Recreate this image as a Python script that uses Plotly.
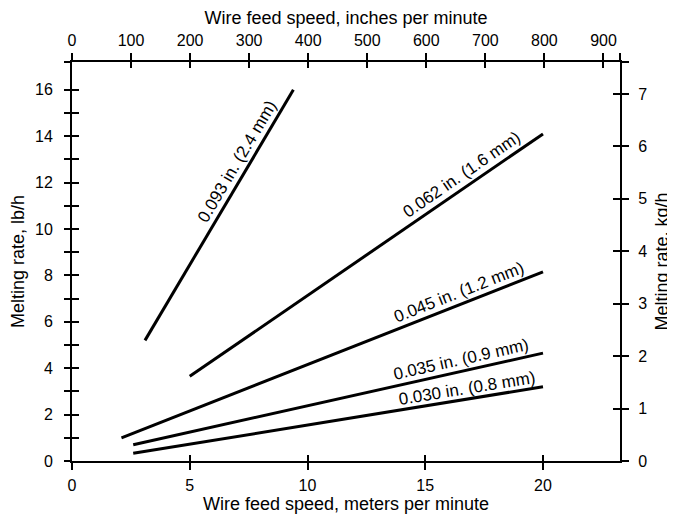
import math
import plotly.graph_objects as go

# ---- data ----
wire_labels = ["0.093 in. (2.4 mm)", "0.062 in. (1.6 mm)", "0.045 in. (1.2 mm)",
               "0.035 in. (0.9 mm)", "0.030 in. (0.8 mm)"]
speed_start = [3.1, 5.0, 2.1, 2.6, 2.6]        # m/min
speed_end = [9.4, 20.0, 20.0, 20.0, 20.0]      # m/min
rate_start = [5.2, 3.65, 1.0, 0.7, 0.33]       # lb/h
rate_end = [16.0, 14.1, 8.15, 4.65, 3.2]       # lb/h

bottom_ticks = [0, 5, 10, 15, 20]
top_ticks = [0, 100, 200, 300, 400, 500, 600, 700, 800, 900]
left_ticks = list(range(0, 17))
right_ticks = list(range(0, 8))

# ---- style / layout constants ----
PAGE_OFF = 8                      # default page body margin
W, H = 675 - PAGE_OFF, 518 - PAGE_OFF
ML, MR, MT, MB = 72 - PAGE_OFF, 55, 62 - PAGE_OFF, 57
X_MAX = 23.27     # m/min
IPM_MAX = 928.0   # in/min
LB_MAX = 17.2     # lb/h
KG_MAX = 7.61     # kg/h
FONT = "Liberation Sans, Arial, sans-serif"

label_t = [0.69, 0.79, 0.81, 0.806, 0.818]
label_off = [12, 12, 12, 12, 11]

plot_w = W - ML - MR
plot_h = H - MT - MB
px_x = plot_w / X_MAX
px_y = plot_h / LB_MAX

fig = go.Figure()
annotations = []
for i, name in enumerate(wire_labels):
    xs = [speed_start[i], speed_end[i]]
    ys = [rate_start[i], rate_end[i]]
    fig.add_trace(go.Scatter(x=xs, y=ys, mode="lines", name=name,
                             line=dict(color="black", width=3),
                             showlegend=False, hoverinfo="skip"))
    t = label_t[i]
    ax = xs[0] + t * (xs[1] - xs[0])
    ay = ys[0] + t * (ys[1] - ys[0])
    dxp = (xs[1] - xs[0]) * px_x
    dyp = (ys[1] - ys[0]) * px_y
    L = math.hypot(dxp, dyp)
    ang = math.degrees(math.atan2(dyp, dxp))
    annotations.append(dict(
        x=ax, y=ay, xref="x", yref="y", text=name, showarrow=False,
        textangle=-ang, font=dict(family=FONT, size=17, color="black"),
        xshift=label_off[i] * (-dyp / L), yshift=label_off[i] * (dxp / L),
        xanchor="center", yanchor="middle"))

# invisible traces so that the secondary / tick-only axes are drawn
for xa, ya in [("x2", "y"), ("x3", "y"), ("x4", "y"), ("x", "y2"), ("x", "y3"), ("x", "y4")]:
    fig.add_trace(go.Scatter(x=[None], y=[None], xaxis=xa, yaxis=ya, mode="lines",
                             showlegend=False, hoverinfo="skip"))

axis_common = dict(showgrid=False, zeroline=False, color="black", automargin=False,
                   tickfont=dict(family=FONT, size=16, color="black"),
                   tickcolor="black", tickwidth=2)

left_text = [str(v) if v % 2 == 0 else "" for v in left_ticks]
right_text = [str(v) for v in right_ticks]

fig.update_layout(
    width=W, height=H,
    margin=dict(l=ML, r=MR, t=MT, b=MB, pad=0),
    plot_bgcolor="white", paper_bgcolor="white",
    font=dict(family=FONT, color="black"),
    annotations=annotations,
    xaxis=dict(axis_common, range=[0, X_MAX], side="bottom", anchor="y",
               tickmode="array", tickvals=bottom_ticks,
               ticks="outside", ticklen=7, ticklabelstandoff=2,
               showline=True, linewidth=2, linecolor="black",
               title=dict(text="Wire feed speed, meters per minute",
                          font=dict(family=FONT, size=18, color="black"), standoff=3)),
    xaxis3=dict(axis_common, range=[0, X_MAX], overlaying="x", side="bottom", anchor="y",
                tickmode="array", tickvals=bottom_ticks, ticks="inside", ticklen=6,
                showticklabels=False, showline=False),
    xaxis2=dict(axis_common, range=[0, IPM_MAX], overlaying="x", side="top", anchor="y",
                tickmode="array", tickvals=top_ticks + [IPM_MAX - 0.01],
                ticktext=[str(v) for v in top_ticks] + [""],
                ticks="outside", ticklen=7, ticklabelstandoff=1,
                showline=True, linewidth=2, linecolor="black",
                title=dict(text="Wire feed speed, inches per minute",
                           font=dict(family=FONT, size=18, color="black"), standoff=4)),
    xaxis4=dict(axis_common, range=[0, IPM_MAX], overlaying="x", side="top", anchor="y",
                tickmode="array", tickvals=top_ticks + [IPM_MAX - 0.01], ticks="inside",
                ticklen=6, showticklabels=False, showline=False),
    yaxis=dict(axis_common, range=[0, LB_MAX], side="left", anchor="x",
               tickmode="array", tickvals=left_ticks + [LB_MAX - 0.001],
               ticktext=left_text + [""],
               ticks="outside", ticklen=6, ticklabelstandoff=8,
               showline=True, linewidth=2, linecolor="black",
               title=dict(text="Melting rate, lb/h",
                          font=dict(family=FONT, size=18, color="black"), standoff=8)),
    yaxis3=dict(axis_common, range=[0, LB_MAX], overlaying="y", side="left", anchor="x",
                tickmode="array", tickvals=left_ticks + [LB_MAX - 0.001], ticks="inside",
                ticklen=7, showticklabels=False, showline=False),
    yaxis2=dict(axis_common, range=[0, KG_MAX], overlaying="y", side="right", anchor="x",
                tickmode="array", tickvals=right_ticks + [KG_MAX - 0.001],
                ticktext=right_text + [""],
                ticks="outside", ticklen=7, ticklabelstandoff=6,
                showline=True, linewidth=2, linecolor="black",
                title=dict(text="Melting rate, kg/h",
                           font=dict(family=FONT, size=18, color="black"), standoff=9)),
    yaxis4=dict(axis_common, range=[0, KG_MAX], overlaying="y", side="right", anchor="x",
                tickmode="array", tickvals=right_ticks + [KG_MAX - 0.001], ticks="inside",
                ticklen=7, showticklabels=False, showline=False),
)

fig.write_html("out.html")
